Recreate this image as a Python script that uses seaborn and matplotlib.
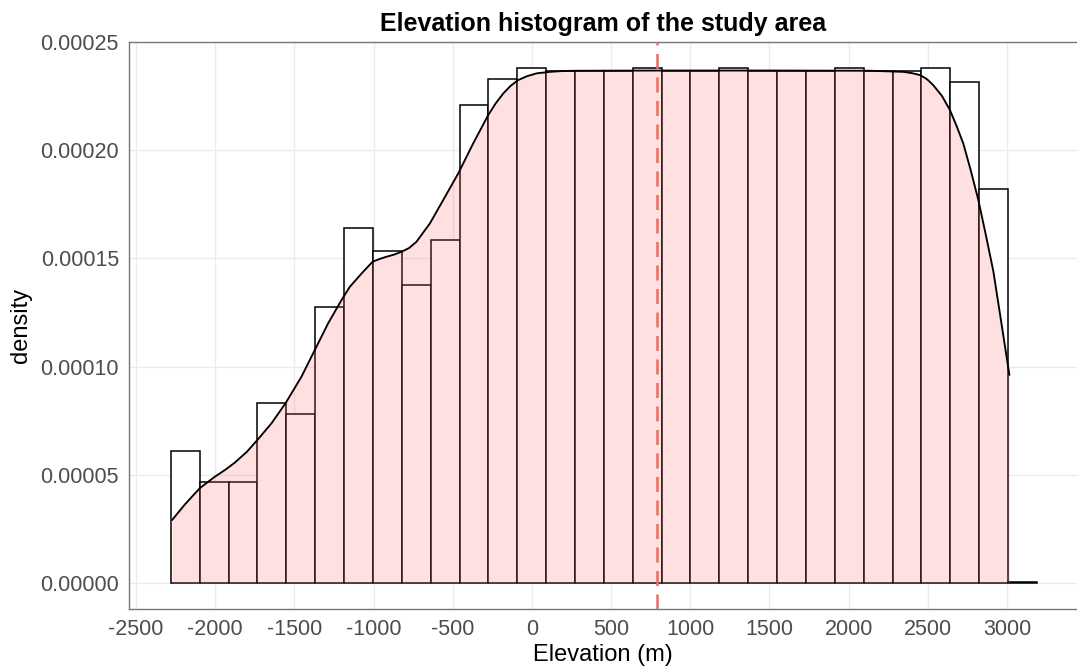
import numpy as np
import pandas as pd
import seaborn as sns
import matplotlib.pyplot as plt
import matplotlib.ticker as ticker

# histogram bars: bin centres (m) and density (x 1e-5)
bin_centers = [-2189, -2007, -1824, -1642, -1460, -1277, -1095, -913, -730, -548,
               -366, -183, -1, 181, 363, 546, 728, 910, 1093, 1275,
               1457, 1640, 1822, 2004, 2187, 2369, 2551, 2733, 2916, 3098]
bin_density = [6.11, 4.66, 4.66, 8.31, 7.80, 12.74, 16.39, 15.34, 13.77, 15.86,
               22.10, 23.28, 23.79, 23.68, 23.68, 23.68, 23.79, 23.68, 23.68, 23.79,
               23.68, 23.68, 23.68, 23.79, 23.68, 23.68, 23.79, 23.14, 18.19, 0.07]

# kernel density curve (x 1e-5)
curve_x = [-2272, -2190, -2097, -2002, -1940, -1876, -1800, -1733, -1644, -1556,
           -1455, -1371, -1287, -1202, -1150, -1075, -1006, -960, -918, -870,
           -823, -776, -729, -644, -560, -465, -371, -276, -230, -181,
           -135, -87, -30, 30, 114, 200, 300, 800, 1500, 2135,
           2345, 2400, 2451, 2495, 2535, 2590, 2640, 2680, 2724, 2770,
           2819, 2866, 2914, 2965, 3015]
curve_density = [2.92, 3.65, 4.39, 4.92, 5.22, 5.57, 6.07, 6.62, 7.39, 8.31,
                 9.54, 10.77, 12.00, 13.08, 13.69, 14.31, 14.85, 14.98, 15.08, 15.18,
                 15.31, 15.48, 15.77, 16.62, 17.70, 18.93, 20.31, 21.62, 22.15, 22.62,
                 22.97, 23.24, 23.42, 23.55, 23.62, 23.66, 23.67, 23.68, 23.68, 23.67,
                 23.62, 23.56, 23.47, 23.28, 23.00, 22.50, 21.85, 21.15, 20.31, 19.10,
                 17.70, 16.10, 14.40, 12.00, 9.62]

mean_elev = 790

hist = pd.DataFrame({"elev": bin_centers, "dens": np.array(bin_density) * 1e-5})
curve = pd.DataFrame({"elev": curve_x, "dens": np.array(curve_density) * 1e-5})

sns.set_style("whitegrid")
plt.rcParams['font.family'] = ['Liberation Sans', 'DejaVu Sans']
plt.rcParams['axes.unicode_minus'] = False

fig = plt.figure(figsize=(10.77, 6.66), dpi=100)
ax = fig.add_axes([0.1195, 0.0856, 0.8805, 0.8514])

sns.histplot(data=hist, x="elev", weights="dens", bins=30, binrange=(-2280, 3189),
             stat="count", color="white", edgecolor="black", linewidth=1.1,
             alpha=1, ax=ax, zorder=2)
ax.fill_between(curve["elev"], 0, curve["dens"], color="#FF6666", alpha=0.2,
                linewidth=0, zorder=3)
sns.lineplot(data=curve, x="elev", y="dens", color="black", linewidth=1.35,
             ax=ax, zorder=4)
ax.axvline(mean_elev, color="#EF6B5E", linewidth=1.8, linestyle=(0, (6, 3.4)),
           zorder=5)

ax.set_xlim(-2546, 3442)
ax.set_ylim(-0.0000119, 0.0002498)
ax.set_xticks(np.arange(-2500, 3001, 500))
ax.set_yticks(np.arange(0, 0.000251, 0.00005))
ax.yaxis.set_major_formatter(ticker.FormatStrFormatter('%.5f'))

ax.grid(color="#EBEBEB", linewidth=1)
ax.set_axisbelow(True)
for side in ["left", "top", "bottom"]:
    ax.spines[side].set_color("#777777")
    ax.spines[side].set_linewidth(1)
ax.spines["right"].set_visible(False)

ax.tick_params(length=4, width=1, color="#555555", labelcolor="#4D4D4D",
               labelsize=15.5, pad=3)
ax.set_xlabel("Elevation (m)", fontsize=17, color="black", labelpad=3)
ax.set_ylabel("density", fontsize=17, color="black", labelpad=6)
ax.set_title("Elevation histogram of the study area", fontsize=18,
             fontweight="bold", color="black", pad=8)

plt.savefig("out.png", dpi=100)
